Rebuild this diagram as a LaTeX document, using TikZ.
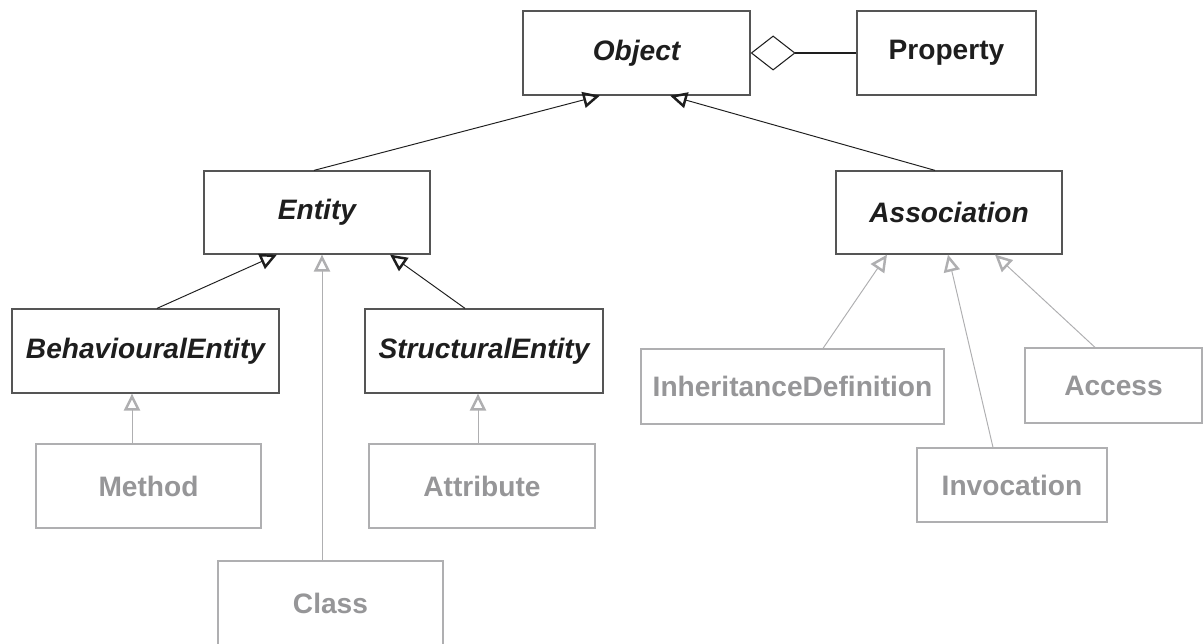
\documentclass[tikz,border=0pt]{standalone}
\usepackage{fontspec}
\setmainfont{Liberation Sans}
\usetikzlibrary{arrows.meta,calc}
\definecolor{Frame}{RGB}{85,85,85}
\definecolor{Ink}{RGB}{30,30,30}
\definecolor{Faded}{RGB}{150,150,152}
\definecolor{FadedLine}{RGB}{175,175,177}

\begin{document}
\begin{tikzpicture}[
    x=1cm,
    y=1cm,
    every node/.style={align=center},
    abstractbox/.style={
      draw=Frame,
      fill=white,
      inner sep=0pt,
      line width=0.7pt,
      text=Ink,
      font=\fontsize{16}{19}\selectfont\bfseries\itshape
    },
    concretebox/.style={
      draw=Frame,
      fill=white,
      inner sep=0pt,
      line width=0.7pt,
      text=Ink,
      font=\fontsize{16}{19}\selectfont\bfseries
    },
    fadedbox/.style={
      draw=FadedLine,
      fill=white,
      inner sep=0pt,
      line width=0.7pt,
      text=Faded,
      font=\fontsize{16}{19}\selectfont\bfseries
    },
    inherit/.style={-{Triangle[open, length=0.34cm, width=0.32cm, line width=1.4pt]}, line width=0.55pt, color=Ink},
    fadedinherit/.style={-{Triangle[open, length=0.34cm, width=0.32cm, line width=1.4pt]}, line width=0.55pt, color=FadedLine},
    aggregate/.style={-{Diamond[open, length=0.9cm, width=0.7cm, line width=0.6pt]}, line width=0.6pt, color=Ink}
  ]
    \useasboundingbox (0,0) rectangle (24.06,-12.88);

    % Top of the hierarchy
    \node[abstractbox, minimum width=4.54cm, minimum height=1.68cm] (object) at (12.73,-1.06) {Object};
    \node[concretebox, minimum width=3.58cm, minimum height=1.68cm] (property) at (18.93,-1.06) {Property};

    % Second level
    \node[abstractbox, minimum width=4.52cm, minimum height=1.66cm] (entity) at (6.34,-4.25) {Entity};
    \node[abstractbox, minimum width=4.52cm, minimum height=1.66cm] (association) at (18.98,-4.25) {Association};

    % Entity kinds
    \node[abstractbox, minimum width=5.34cm, minimum height=1.68cm] (behavioural) at (2.91,-7.02) {BehaviouralEntity};
    \node[abstractbox, minimum width=4.76cm, minimum height=1.68cm] (structural) at (9.68,-7.02) {StructuralEntity};

    % Concrete entities (faded)
    \node[fadedbox, minimum width=4.5cm, minimum height=1.68cm] (method) at (2.97,-9.72) {Method};
    \node[fadedbox, minimum width=4.52cm, minimum height=1.68cm] (attribute) at (9.64,-9.72) {Attribute};
    \node[fadedbox, minimum width=4.5cm, minimum height=1.7cm] (class) at (6.61,-12.07) {Class};

    % Concrete associations (faded)
    \node[fadedbox, minimum width=6.06cm, minimum height=1.5cm] (inheritance) at (15.85,-7.73) {InheritanceDefinition};
    \node[fadedbox, minimum width=3.54cm, minimum height=1.5cm] (access) at (22.27,-7.71) {Access};
    \node[fadedbox, minimum width=3.8cm, minimum height=1.48cm] (invocation) at (20.24,-9.70) {Invocation};

    % Aggregation
    \draw[aggregate] (property.west) -- (object.east);

    % Generalisation, black
    \draw[inherit] ([xshift=-0.06cm]entity.north) -- ([xshift=-0.73cm]object.south);
    \draw[inherit] ([xshift=-0.28cm]association.north) -- ([xshift=0.67cm]object.south);
    \draw[inherit] ([xshift=0.23cm]behavioural.north) -- ([xshift=-0.8cm]entity.south);
    \draw[inherit] ([xshift=-0.38cm]structural.north) -- ([xshift=1.46cm]entity.south);

    % Generalisation, faded
    \draw[fadedinherit] ([xshift=-0.17cm]class.north) -- ([xshift=0.1cm]entity.south);
    \draw[fadedinherit] ([xshift=-0.33cm]method.north) -- ([xshift=-0.27cm]behavioural.south);
    \draw[fadedinherit] ([xshift=-0.08cm]attribute.north) -- ([xshift=-0.12cm]structural.south);
    \draw[fadedinherit] ([xshift=0.61cm]inheritance.north) -- ([xshift=-1.24cm]association.south);
    \draw[fadedinherit] ([xshift=-0.38cm]invocation.north) -- ([xshift=-0.02cm]association.south);
    \draw[fadedinherit] ([xshift=-0.37cm]access.north) -- ([xshift=0.92cm]association.south);
\end{tikzpicture}
\end{document}
